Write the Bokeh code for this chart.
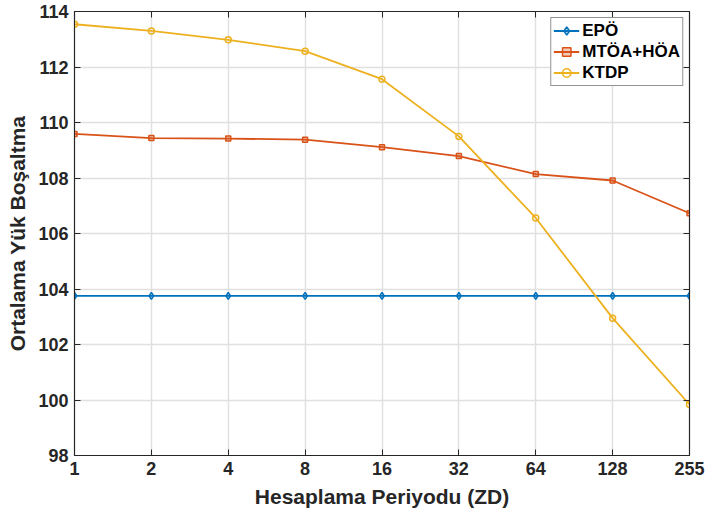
from bokeh.plotting import figure
from bokeh.models import LinearAxis, Range1d, FixedTicker, Legend, LegendItem
from bokeh.embed import file_html
from bokeh.resources import INLINE

periods = ["1", "2", "4", "8", "16", "32", "64", "128", "255"]
epo = [103.75, 103.75, 103.75, 103.75, 103.75, 103.75, 103.75, 103.75, 103.75]
mtoa_hoa = [109.59, 109.44, 109.42, 109.38, 109.11, 108.79, 108.14, 107.91, 106.73]
ktdp = [113.54, 113.30, 112.98, 112.57, 111.56, 109.50, 106.56, 102.95, 99.84]
y_ticks = [98, 100, 102, 104, 106, 108, 110, 112, 114]

xs = list(range(len(periods)))
FONT = "Liberation Sans"
DARK = "#262626"

p = figure(width=708, height=519, output_backend="svg", toolbar_location=None,
           x_range=Range1d(0, len(periods) - 1), y_range=Range1d(98, 114),
           min_border_left=74, min_border_right=19, min_border_top=11, min_border_bottom=64)
p.outline_line_color = DARK
p.outline_line_width = 1.2
p.background_fill_color = "white"
p.border_fill_color = "white"

for ax in [p.xaxis[0], p.yaxis[0]]:
    ax.major_tick_in = 6
    ax.major_tick_out = 0
    ax.minor_tick_line_color = None
    ax.axis_line_color = DARK
    ax.major_tick_line_color = DARK
    ax.major_label_text_font = FONT
    ax.major_label_text_font_style = "bold"
    ax.major_label_text_font_size = "18px"
    ax.major_label_text_color = DARK
    ax.axis_label_text_font = FONT
    ax.axis_label_text_font_style = "bold"
    ax.axis_label_text_font_size = "21px"
    ax.axis_label_text_color = DARK

p.xaxis[0].ticker = FixedTicker(ticks=xs)
p.xaxis[0].major_label_overrides = {i: s for i, s in enumerate(periods)}
p.xaxis[0].axis_label = "Hesaplama Periyodu (ZD)"
p.xaxis[0].major_label_standoff = 6
p.xaxis[0].axis_label_standoff = 7
p.yaxis[0].ticker = FixedTicker(ticks=y_ticks)
p.yaxis[0].axis_label = "Ortalama Yük Boşaltma"
p.yaxis[0].major_label_standoff = 6
p.yaxis[0].axis_label_standoff = 6

top = LinearAxis(ticker=FixedTicker(ticks=xs), major_label_overrides={i: "" for i in xs},
                 major_tick_in=6, major_tick_out=0, minor_tick_line_color=None,
                 axis_line_color=DARK, major_tick_line_color=DARK)
right = LinearAxis(ticker=FixedTicker(ticks=y_ticks), major_label_overrides={t: "" for t in y_ticks},
                   major_tick_in=6, major_tick_out=0, minor_tick_line_color=None,
                   axis_line_color=DARK, major_tick_line_color=DARK)
p.add_layout(top, "above")
p.add_layout(right, "right")

p.xgrid.ticker = FixedTicker(ticks=xs)
p.ygrid.ticker = FixedTicker(ticks=y_ticks)
p.grid.grid_line_color = "#e0e0e0"
p.grid.grid_line_width = 1.5

c1, c2, c3 = "#0072BD", "#D95319", "#EDB120"
l1 = p.line(xs, epo, line_color=c1, line_width=1.8)
m1 = p.scatter(xs, epo, marker="diamond", size=7, line_color=c1, fill_color=c1, fill_alpha=0.3, line_width=1.5)
l2 = p.line(xs, mtoa_hoa, line_color=c2, line_width=1.8)
m2 = p.scatter(xs, mtoa_hoa, marker="square", size=5, line_color=c2, fill_color=c2, fill_alpha=0.3, line_width=1.5)
l3 = p.line(xs, ktdp, line_color=c3, line_width=1.8)
m3 = p.scatter(xs, ktdp, marker="circle", size=6, line_color=c3, fill_color=None, line_width=1.5)

legend = Legend(items=[LegendItem(label="EPÖ", renderers=[l1, m1]),
                       LegendItem(label="MTÖA+HÖA", renderers=[l2, m2]),
                       LegendItem(label="KTDP", renderers=[l3, m3])],
                location="top_right")
legend.label_text_font = FONT
legend.label_text_font_style = "bold"
legend.label_text_font_size = "17px"
legend.label_text_color = "black"
legend.border_line_color = DARK
legend.border_line_width = 1
legend.background_fill_alpha = 1
legend.margin = 6
legend.padding = 2
legend.spacing = 0
legend.glyph_width = 26
legend.glyph_height = 21
legend.label_standoff = 3
legend.label_height = 21
p.add_layout(legend)

open("out.html", "w").write(file_html(p, INLINE))
